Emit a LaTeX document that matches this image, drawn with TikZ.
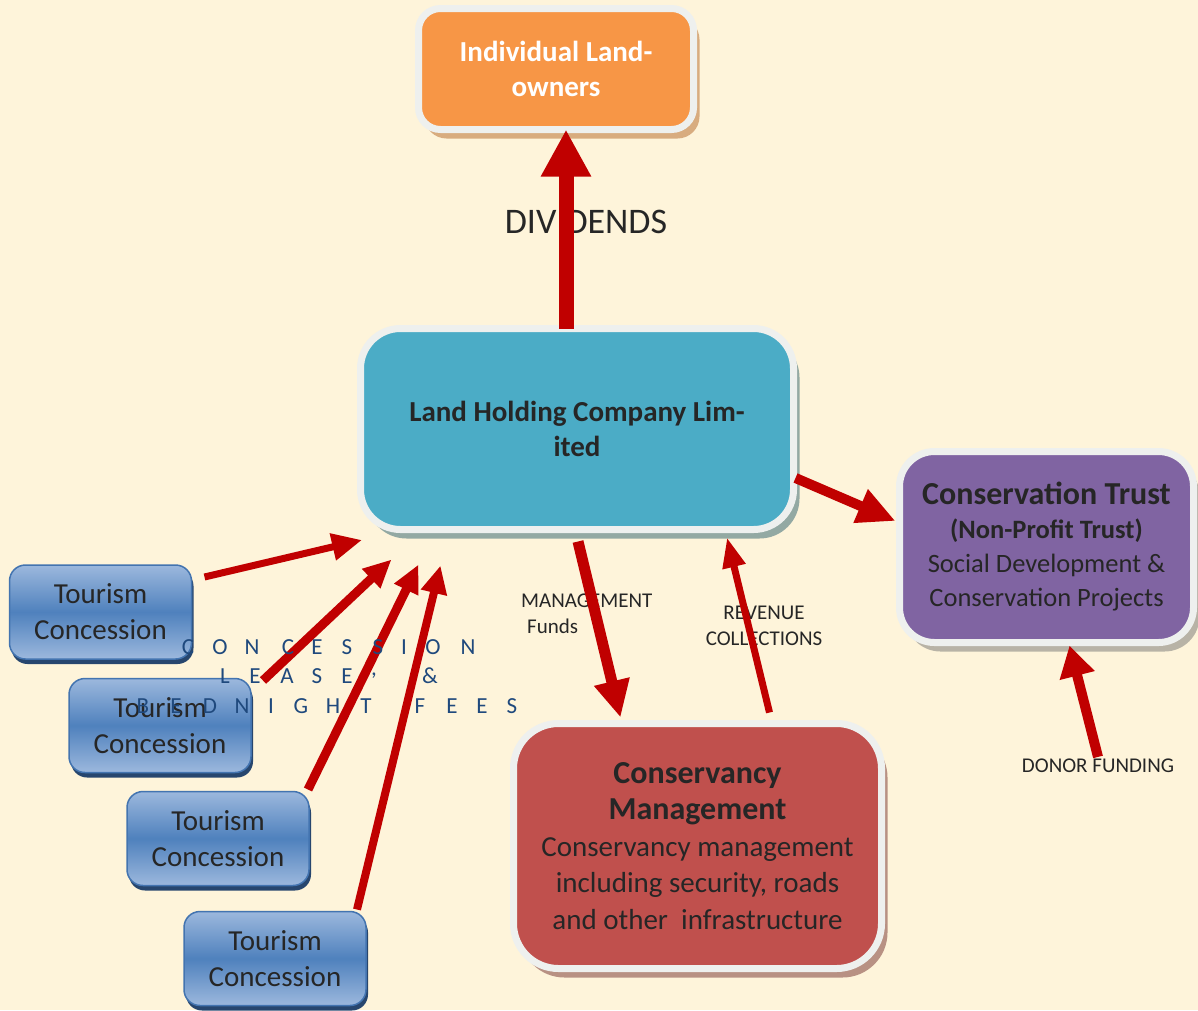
\documentclass[tikz,border=0pt]{standalone}
\usepackage{fontspec}
\setmainfont{Carlito}
\usetikzlibrary{arrows.meta,calc,shadows}
\definecolor{bg}{HTML}{FEF4DA}
\definecolor{edge}{HTML}{EEF0EE}
\definecolor{dark}{HTML}{262626}
\definecolor{orng}{HTML}{F79646}
\definecolor{teal}{HTML}{4BACC6}
\definecolor{purp}{HTML}{8064A2}
\definecolor{rust}{HTML}{C0504D}
\definecolor{arrred}{HTML}{C00000}
\definecolor{tlight}{HTML}{9CB8DD}
\definecolor{tmid}{HTML}{4F81BD}
\definecolor{tedge}{HTML}{4374B0}
\definecolor{tshadow}{HTML}{27466E}
\definecolor{letblue}{HTML}{1F497D}
\begin{document}
\begin{tikzpicture}[x=1pt,y=-1pt,
  mainbox/.style={draw=edge, line width=7pt, inner sep=0pt, outer sep=0pt, align=center, text=dark},
  tbox/.style={rounded corners=16pt, draw=tedge, line width=1.5pt, top color=tlight, bottom color=tlight, middle color=tmid,
     minimum width=182pt, minimum height=94pt, inner sep=0pt, outer sep=0pt, align=center, text=dark,
     font=\fontsize{29}{36}\selectfont,
     drop shadow={shadow xshift=2pt, shadow yshift=-5pt, fill=tshadow, opacity=1}},
  arr/.style n args={3}{draw=arrred, line width=#1, -{Triangle[length=#2,width=#3]}},
  lbl/.style={text=dark, inner sep=0pt, font=\fontsize{21}{26}\selectfont},
  lett/.style={text=letblue, inner sep=0pt, font=\fontsize{23}{26}\selectfont}
]
\useasboundingbox (0,0) rectangle (1198,1010);
\fill[bg] (0,0) rectangle (1198,1010);

% labels
\node[text=dark, inner sep=0pt, font=\fontsize{36}{40}\selectfont] (divlbl) at (586,222) {DIVIDENDS};
\node[lbl, anchor=west, align=left] (mgmtlbl) at (521,614) {MANAGEMENT\\\hspace*{6pt}Funds};
\node[lbl, align=center] (revlbl) at (764,626) {REVENUE\\COLLECTIONS};
\node[lbl, inner sep=2pt] (donorlbl) at (1098,766) {DONOR FUNDING};

% main boxes
\node[mainbox, fill=orng, rounded corners=22pt, minimum width=275pt, minimum height=121pt, text=white,
      font=\fontsize{29}{35}\selectfont\bfseries,
      drop shadow={shadow xshift=6pt, shadow yshift=-9pt, fill=orng!75!black, opacity=.55}]
  (orange) at (556,69) {Individual Land-\\owners};
\node[mainbox, fill=teal, rounded corners=40pt, minimum width=433pt, minimum height=201pt,
      font=\fontsize{29}{35}\selectfont\bfseries,
      drop shadow={shadow xshift=6pt, shadow yshift=-9pt, fill=teal!55!black, opacity=.5}]
  (blue) at (577,429) {Land Holding Company Lim-\\ited};
\node[mainbox, fill=purp, rounded corners=35pt, minimum width=294pt, minimum height=191pt,
      font=\fontsize{26.5}{34}\selectfont,
      drop shadow={shadow xshift=6pt, shadow yshift=-9pt, fill=black!55, opacity=.5}]
  (purple) at (1046.5,547) {{\fontsize{32}{34}\selectfont\bfseries Conservation Trust}\\{\bfseries (Non-Profit Trust)}\\Social Development \&\\Conservation Projects};
\node[mainbox, fill=rust, rounded corners=45pt, minimum width=368pt, minimum height=245pt,
      font=\fontsize{29}{36.5}\selectfont,
      drop shadow={shadow xshift=6pt, shadow yshift=-9pt, fill=rust!60!black, opacity=.5}]
  (cons) at (697.5,846) {{\fontsize{32}{37.5}\selectfont\bfseries Conservancy}\\{\fontsize{32}{37.5}\selectfont\bfseries Management}\\Conservancy management\\including security, roads\\and other\ \ infrastructure};

% tourism boxes
\node[tbox] (t2) at (160,725.5) {Tourism\\Concession};
\node[tbox] (t3) at (218,838.5) {Tourism\\Concession};
\node[tbox] (t4) at (275,958.5) {Tourism\\Concession};
\node[tbox] (t1) at (100.5,612) {Tourism\\Concession};

% arrows
\draw[arr={15pt}{47pt}{47pt}] ($(blue.north)+(-11,0)$) -- ($(orange.south)+(10,0)$);
\draw[arr={10pt}{38pt}{34pt}] ($(blue.east)+(2,49)$) -- ($(purple.west)+(-4,-26)$);
\draw[arr={11pt}{37pt}{34pt}] ($(blue.south)+(1,12)$) -- ($(cons.north)+(-77,-6)$);
\draw[arr={7pt}{30pt}{22pt}] ($(cons.north)+(72,-11)$) -- ($(blue.south)+(150,8)$);
\draw[arr={10pt}{31pt}{34pt}] (donorlbl.north) -- ($(purple.south)+(23,3)$);
\draw[arr={7pt}{30pt}{26pt}] ($(t1.east)+(13,-35)$) -- ($(blue.south west)+(1.5,10.5)$);
\draw[arr={9pt}{28pt}{25pt}] ($(t2.north)+(103,2)$) -- ($(blue.south west)+(31,30)$);
\draw[arr={9pt}{28pt}{25pt}] ($(t3.north)+(90,-2)$) -- ($(blue.south west)+(58,35)$);
\draw[arr={8pt}{28pt}{25pt}] ($(t4.north)+(82,-2)$) -- ($(blue.south west)+(80,36)$);

% spaced letters
\foreach \x/\c [count=\i] in {188/C,220/O,252/N,288/C,317/E,347/S,378/S,404/I,433/O,468/N}
  \node[lett] (la\i) at (\x,647) {\c};
\foreach \x/\c [count=\i] in {225/L,255/E,287/A,317/S,347/E,374/{,},430/\&}
  \node[lett] (lb\i) at (\x,676) {\c};
\foreach \x/\c [count=\i] in {143/B,176/E,210/D,242/N,271/I,301/G,333/H,366/T,420/F,452/E,482/E,512/S}
  \node[lett] (lc\i) at (\x,706) {\c};
\end{tikzpicture}
\end{document}
